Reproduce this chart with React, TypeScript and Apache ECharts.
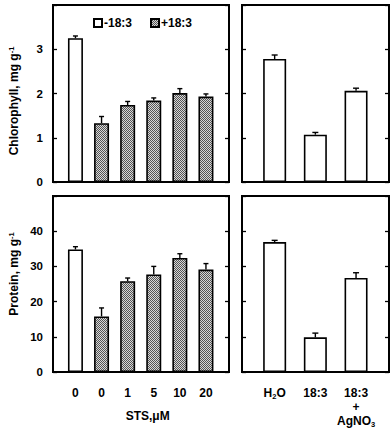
import React, { useEffect, useRef } from "react";
import * as echarts from "echarts";

// ---- data ----
const stsLabels = ["0", "0", "1", "5", "10", "20"];
const stsGroup = ["-18:3", "+18:3", "+18:3", "+18:3", "+18:3", "+18:3"];
const chlSTS = [3.25, 1.33, 1.74, 1.84, 2.01, 1.93];
const chlSTSErr = [0.05, 0.15, 0.08, 0.06, 0.1, 0.06];
const protSTS = [34.8, 15.8, 25.8, 27.7, 32.4, 29.1];
const protSTSErr = [0.8, 2.4, 0.9, 2.3, 1.2, 1.7];

const trtLabels = ["H{sub|2}O", "18:3", "18:3\n+\nAgNO{sub|3}"];
const chlTrt = [2.78, 1.07, 2.06];
const chlTrtErr = [0.09, 0.05, 0.06];
const protTrt = [36.9, 9.85, 26.7];
const protTrtErr = [0.5, 1.2, 1.5];

const legendNames = ["-18:3", "+18:3"];
const chlTicks = { min: 0, max: 4, interval: 1 };
const protTicks = { min: 0, max: 50, interval: 10 };

const FONT = "'Liberation Sans', Arial, sans-serif";

function makePattern(): any {
  const c = document.createElement("canvas");
  c.width = 2;
  c.height = 2;
  const ctx = c.getContext("2d")!;
  ctx.fillStyle = "#d8d8d8";
  ctx.fillRect(0, 0, 2, 2);
  ctx.fillStyle = "#555555";
  ctx.fillRect(0, 0, 1, 1);
  ctx.fillRect(1, 1, 1, 1);
  return { image: c, repeat: "repeat" };
}

export default function App() {
  const ref = useRef<HTMLDivElement>(null);
  useEffect(() => {
    if (!ref.current) return;
    const chart = echarts.init(ref.current, undefined, { renderer: "svg" });
    const pattern = makePattern();

    const frames = [
      { left: 53, top: 5, width: 176, height: 177 },
      { left: 242, top: 5, width: 147, height: 177 },
      { left: 53, top: 196, width: 176, height: 176 },
      { left: 242, top: 196, width: 147, height: 176 },
    ];
    const barGrids = [
      { left: 62.4, top: 5, width: 156.6, height: 177 },
      { left: 254.3, top: 5, width: 122.1, height: 177 },
      { left: 62.4, top: 196, width: 156.6, height: 176 },
      { left: 254.3, top: 196, width: 122.1, height: 176 },
    ];
    const ranges = [chlTicks, chlTicks, protTicks, protTicks];

    const grid: any[] = [
      ...frames.map((f) => ({
        ...f,
        show: true,
        borderColor: "#000",
        borderWidth: 2,
        backgroundColor: "transparent",
      })),
      ...barGrids.map((g) => ({ ...g, show: false })),
    ];

    const xAxis: any[] = [];
    const yAxis: any[] = [];
    frames.forEach((_, i) => {
      xAxis.push({ type: "value", gridIndex: i, show: false, min: 0, max: 1 });
      const r = ranges[i];
      const isLeft = i % 2 === 0;
      const isTop = i < 2;
      yAxis.push({
        type: "value",
        gridIndex: i,
        position: "left",
        min: r.min,
        max: r.max,
        interval: r.interval,
        splitLine: { show: false },
        axisLine: { show: false },
        axisTick: { show: true, inside: true, length: 4, lineStyle: { color: "#000", width: 1.3 } },
        axisLabel: {
          show: isLeft,
          margin: 10,
          color: "#000",
          fontFamily: FONT,
          fontWeight: "bold",
          fontSize: 11.5,
          formatter: (v: number) => (v === r.max ? "" : String(v)),
        },
        name: isLeft ? (isTop ? "Chlorophyll, mg g{sup|-1}" : "Protein, mg g{sup|-1}") : "",
        nameLocation: "middle",
        nameGap: 32,
        nameTextStyle: {
          color: "#000",
          fontFamily: FONT,
          fontWeight: "bold",
          fontSize: 12,
          padding: isTop ? [0, 15, 0, 0] : [0, 0, 0, 20],
          rich: {
            sup: { fontSize: 7.5, fontFamily: FONT, fontWeight: "bold", color: "#000", padding: [0, 0, 6, 0] },
          },
        },
      });
      yAxis.push({
        type: "value",
        gridIndex: i,
        position: "right",
        min: r.min,
        max: r.max,
        interval: r.interval,
        splitLine: { show: false },
        axisLine: { show: false },
        axisTick: { show: true, inside: true, length: 4, lineStyle: { color: "#000", width: 1.3 } },
        axisLabel: { show: false },
      });
    });
    const catData = [stsLabels, trtLabels, stsLabels, trtLabels];
    barGrids.forEach((_, j) => {
      const isBottom = j >= 2;
      xAxis.push({
        type: "category",
        gridIndex: 4 + j,
        data: catData[j],
        boundaryGap: true,
        axisLine: { show: false },
        axisTick: { show: false },
        axisLabel: {
          show: isBottom,
          interval: 0,
          margin: 14,
          color: "#000",
          fontFamily: FONT,
          fontWeight: "bold",
          fontSize: 12,
          lineHeight: 14,
          rich: {
            sub: { fontSize: 7.5, fontFamily: FONT, fontWeight: "bold", color: "#000", padding: [6, 0, 0, 0], lineHeight: 14 },
          },
        },
        name: j === 2 ? "STS,\u03bcM" : "",
        nameLocation: "middle",
        nameGap: 38,
        nameTextStyle: {
          color: "#000",
          fontFamily: FONT,
          fontWeight: "bold",
          fontSize: 12,
          padding: [0, 0, 0, 14],
        },
      });
      const r = ranges[j];
      yAxis.push({
        type: "value",
        gridIndex: 4 + j,
        min: r.min,
        max: r.max,
        interval: r.interval,
        show: false,
      });
    });

    const barVals = [chlSTS, chlTrt, protSTS, protTrt];
    const barErrs = [chlSTSErr, chlTrtErr, protSTSErr, protTrtErr];
    const series: any[] = [];
    const barStyleOpen = { color: "#fff", borderColor: "#000", borderWidth: 1.6 };
    const barStyleHatch = { color: pattern, borderColor: "#000", borderWidth: 1.6 };

    barGrids.forEach((_, j) => {
      const vals = barVals[j];
      const errs = barErrs[j];
      const isSTS = j % 2 === 0;
      const bw = isSTS ? 15 : 23;
      if (isSTS) {
        legendNames.forEach((nm, k) => {
          series.push({
            type: "bar",
            name: nm,
            xAxisIndex: 4 + j,
            yAxisIndex: 8 + j,
            barWidth: bw,
            barGap: "-100%",
            itemStyle: k === 0 ? barStyleOpen : barStyleHatch,
            data: vals.map((v, i) => (stsGroup[i] === nm ? v : "-")),
          });
        });
      } else {
        series.push({
          type: "bar",
          name: "treatment",
          xAxisIndex: 4 + j,
          yAxisIndex: 8 + j,
          barWidth: bw,
          itemStyle: barStyleOpen,
          data: vals,
        });
      }
      const capHalf = isSTS ? 2.5 : 3;
      series.push({
        type: "custom",
        name: "err" + j,
        xAxisIndex: 4 + j,
        yAxisIndex: 8 + j,
        z: 5,
        encode: { x: 0, y: 1 },
        data: vals.map((v, i) => [i, v, errs[i]]),
        renderItem: (params: any, api: any) => {
          const x = api.value(0);
          const v = api.value(1);
          const e = api.value(2);
          const p0 = api.coord([x, v]);
          const p1 = api.coord([x, v + e]);
          const st = { stroke: "#000", lineWidth: 1.4 };
          return {
            type: "group",
            children: [
              { type: "line", shape: { x1: p0[0], y1: p0[1], x2: p1[0], y2: p1[1] }, style: st },
              { type: "line", shape: { x1: p1[0] - capHalf, y1: p1[1], x2: p1[0] + capHalf, y2: p1[1] }, style: st },
            ],
          };
        },
      });
    });

    chart.setOption({
      animation: false,
      backgroundColor: "#fff",
      grid,
      xAxis,
      yAxis,
      legend: {
        data: legendNames,
        left: 93,
        top: 17,
        itemWidth: 8,
        itemHeight: 8,
        itemGap: 18,
        padding: 0,
        icon: "rect",
        selectedMode: false,
        textStyle: { color: "#000", fontFamily: FONT, fontWeight: "bold", fontSize: 12, padding: [0, 0, 0, -3] },
      },
      series,
    });
    return () => chart.dispose();
  }, []);
  return <div ref={ref} style={{ width: 391, height: 429, position: "absolute", left: 0, top: 0 }} />;
}
